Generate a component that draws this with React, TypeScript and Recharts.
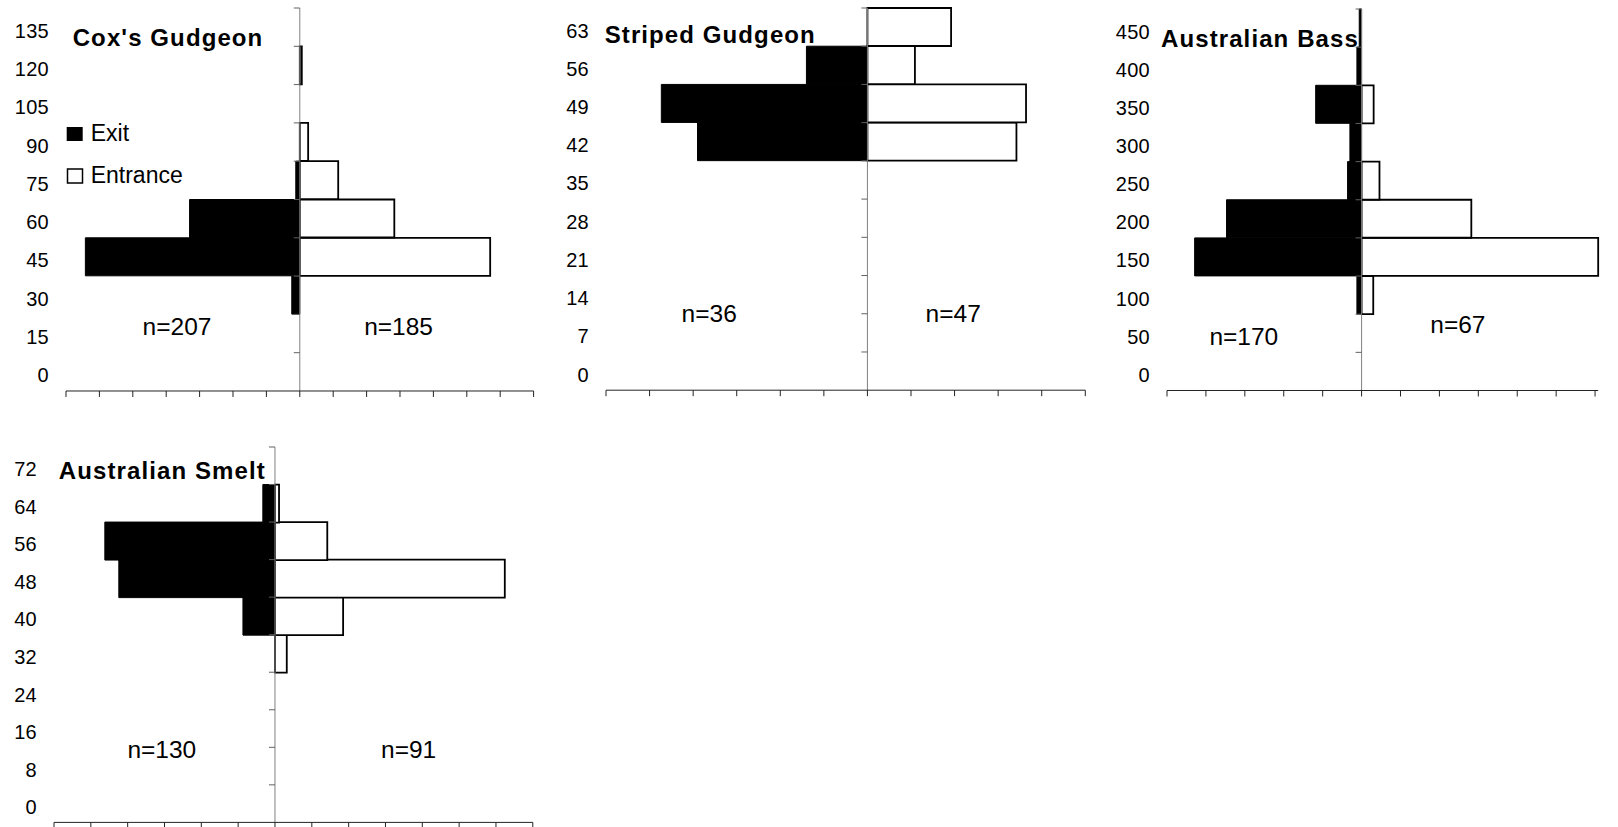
import React from "react";
import { BarChart, Bar, XAxis, YAxis, ReferenceLine } from "recharts";

// Length classes and % frequency of fish leaving (exit) and entering the fishway
const coxClasses = [0, 15, 30, 45, 60, 75, 90, 105, 120, 135];
const coxExit = [0, 0, 2.4, 64.2, 33.0, 1.2, 0, 0, 0, 0];
const coxEntrance = [0, 0, 0, 57.0, 28.3, 11.5, 2.5, 0, 0.6, 0];
const coxTicks = [-70, -60, -50, -40, -30, -20, -10, 0, 10, 20, 30, 40, 50, 60, 70];

const stripedClasses = [0, 7, 14, 21, 28, 35, 42, 49, 56, 63];
const stripedExit = [0, 0, 0, 0, 0, 0, 39.0, 47.3, 14.0, 0];
const stripedEntrance = [0, 0, 0, 0, 0, 0, 34.2, 36.4, 10.9, 19.2];
const stripedTicks = [-60, -50, -40, -30, -20, -10, 0, 10, 20, 30, 40, 50];

const bassClasses = [0, 50, 100, 150, 200, 250, 300, 350, 400, 450];
const bassExit = [0, 0, 1.2, 42.9, 34.7, 3.6, 3.0, 11.8, 1.2, 0.6];
const bassEntrance = [0, 0, 3.0, 60.8, 28.2, 4.6, 0, 3.1, 0, 0];
const bassTicks = [-50, -40, -30, -20, -10, 0, 10, 20, 30, 40, 50, 60];

const smeltClasses = [0, 8, 16, 24, 32, 40, 48, 56, 64, 72];
const smeltExit = [0, 0, 0, 0, 0, 8.7, 42.4, 46.2, 3.3, 0];
const smeltEntrance = [0, 0, 0, 0, 3.2, 18.5, 62.4, 14.2, 1.1, 0];
const smeltTicks = [-60, -50, -40, -30, -20, -10, 0, 10, 20, 30, 40, 50, 60, 70];

const FONT = "'Liberation Sans', Arial, Helvetica, sans-serif";
const AXIS_W = 70;

const LengthTick = (props: any) => {
  const { x, y, payload } = props;
  return (
    <text x={x} y={y} dy={10.5} textAnchor="end" fontFamily={FONT} fontSize={20} letterSpacing={0.3} fill="#000">
      {payload.value}
    </text>
  );
};

// x axis keeps its tick marks but has no labels
const NoLabel = () => <g />;

// vertical zero line with small tick marks at every class boundary
const centreAxis = (bands: number) => (props: any) => {
  const { x1, y1, y2 } = props;
  const top = Math.min(y1, y2);
  const bottom = Math.max(y1, y2);
  const step = (bottom - top) / bands;
  return (
    <g>
      <line x1={x1} x2={x1} y1={top} y2={bottom} stroke="#808080" strokeWidth={1} />
      {Array.from({ length: bands }, (_, i) => (
        <line key={i} x1={x1 - 6} x2={x1} y1={top + i * step} y2={top + i * step} stroke="#606060" strokeWidth={1} />
      ))}
    </g>
  );
};

type PanelProps = {
  classes: number[];
  exit: number[];
  entrance: number[];
  ticks: number[];
  left: number;
  right: number;
  top: number;
  bottom: number;
};

function Panel({ classes, exit, entrance, ticks, left, right, top, bottom }: PanelProps) {
  const rows = classes.map((size, i) => ({ size, exit: -exit[i], entrance: entrance[i] }));
  const width = right - left + AXIS_W + 10;
  const height = bottom - top + 16;
  return (
    <div style={{ position: "absolute", left: left - AXIS_W, top: top - 8 }}>
      <BarChart
        layout="vertical"
        width={width}
        height={height}
        data={rows}
        margin={{ top: 8, right: 10, bottom: 0, left: 0 }}
        stackOffset="sign"
        barCategoryGap={0}
        barGap={0}
      >
        <XAxis
          type="number"
          domain={[ticks[0], ticks[ticks.length - 1]]}
          ticks={ticks}
          interval={0}
          tick={<NoLabel />}
          tickSize={6}
          height={8}
          axisLine={{ stroke: "#222", strokeWidth: 1 }}
          tickLine={{ stroke: "#222", strokeWidth: 1 }}
        />
        <YAxis
          type="category"
          dataKey="size"
          reversed
          width={AXIS_W}
          axisLine={false}
          tickLine={false}
          tickSize={0}
          tickMargin={17}
          interval={0}
          tick={<LengthTick />}
        />
        <Bar dataKey="exit" stackId="a" fill="#000" stroke="#000" strokeWidth={1} isAnimationActive={false} />
        <Bar dataKey="entrance" stackId="a" fill="#fff" stroke="#000" strokeWidth={1.8} isAnimationActive={false} />
        <ReferenceLine x={0} shape={centreAxis(classes.length)} />
      </BarChart>
    </div>
  );
}

const titleStyle = { fontFamily: FONT, fontSize: 24, fontWeight: 700, letterSpacing: 1.1 } as const;
const countStyle = { fontFamily: FONT, fontSize: 24.5 } as const;
const legendStyle = { fontFamily: FONT, fontSize: 23 } as const;

export default function App() {
  return (
    <div style={{ position: "absolute", left: 0, top: 0, width: 1618, height: 827, background: "#fff" }}>
      <Panel classes={coxClasses} exit={coxExit} entrance={coxEntrance} ticks={coxTicks} left={65.7} right={533.3} top={7.5} bottom={390.5} />
      <Panel classes={stripedClasses} exit={stripedExit} entrance={stripedEntrance} ticks={stripedTicks} left={605.7} right={1085} top={8.3} bottom={390.5} />
      <Panel classes={bassClasses} exit={bassExit} entrance={bassEntrance} ticks={bassTicks} left={1167.2} right={1598.4} top={9} bottom={390.5} />
      <Panel classes={smeltClasses} exit={smeltExit} entrance={smeltEntrance} ticks={smeltTicks} left={53.7} right={532.5} top={447} bottom={822.4} />

      <svg width={1618} height={827} style={{ position: "absolute", left: 0, top: 0, pointerEvents: "none" }}>
        <text x={72.7} y={45.7} {...titleStyle}>Cox's Gudgeon</text>
        <text x={604.7} y={42.5} {...titleStyle}>Striped Gudgeon</text>
        <text x={1161} y={47} {...titleStyle}>Australian Bass</text>
        <text x={58.8} y={479.3} {...titleStyle}>Australian Smelt</text>

        <text x={177} y={334.5} textAnchor="middle" {...countStyle}>n=207</text>
        <text x={398.6} y={334.5} textAnchor="middle" {...countStyle}>n=185</text>
        <text x={709.2} y={321.7} textAnchor="middle" {...countStyle}>n=36</text>
        <text x={953.2} y={321.7} textAnchor="middle" {...countStyle}>n=47</text>
        <text x={1243.8} y={345} textAnchor="middle" {...countStyle}>n=170</text>
        <text x={1457.9} y={332.7} textAnchor="middle" {...countStyle}>n=67</text>
        <text x={161.8} y={758.3} textAnchor="middle" {...countStyle}>n=130</text>
        <text x={408.6} y={758.3} textAnchor="middle" {...countStyle}>n=91</text>

        <rect x={66.7} y={127} width={16} height={14} fill="#000" />
        <text x={90.7} y={140.7} {...legendStyle}>Exit</text>
        <rect x={67.5} y={169} width={15} height={14} fill="#fff" stroke="#000" strokeWidth={1.5} />
        <text x={90.7} y={183.3} {...legendStyle}>Entrance</text>
      </svg>
    </div>
  );
}
